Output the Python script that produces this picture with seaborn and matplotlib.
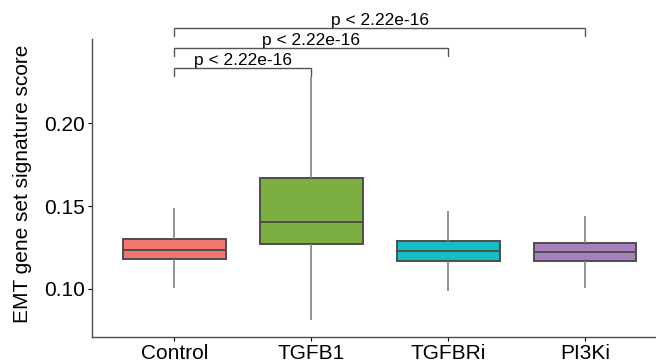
import numpy as np
import pandas as pd
import matplotlib
matplotlib.use("Agg")
import matplotlib.pyplot as plt
import seaborn as sns

# ---- data (five-number summaries: min, Q1, median, Q3, max)
groups = ["Control", "TGFB1", "TGFBRi", "PI3Ki"]
control_vals = [0.1006, 0.1178, 0.1234, 0.1300, 0.1486]
tgfb1_vals = [0.0811, 0.1268, 0.1405, 0.1667, 0.2282]
tgfbri_vals = [0.0988, 0.1167, 0.1226, 0.1288, 0.1470]
pi3ki_vals = [0.1002, 0.1167, 0.1220, 0.1278, 0.1440]
colors = ["#F2766F", "#7BAF41", "#13BEC4", "#A67FBD"]
comparisons = [("Control", "TGFB1"), ("Control", "TGFBRi"), ("Control", "PI3Ki")]
p_labels = ["p < 2.22e-16", "p < 2.22e-16", "p < 2.22e-16"]
y_label = "EMT gene set signature score"
y_ticks = [0.10, 0.15, 0.20]
y_ticklabels = ["0.10", "0.15", "0.20"]

values = [control_vals, tgfb1_vals, tgfbri_vals, pi3ki_vals]
df = pd.DataFrame({
    "group": np.repeat(groups, [len(v) for v in values]),
    "score": np.concatenate(values),
})

sns.set_theme(style="white")
plt.rcParams["font.family"] = ["Liberation Sans", "DejaVu Sans"]

W, H = 656, 362
fig = plt.figure(figsize=(W / 100, H / 100), dpi=100)
ax = fig.add_axes([92.3 / W, (H - 336.7) / H, (667.2 - 92.3) / W, (336.7 - 39.3) / H])

edge = "#4D4D4D"
sns.boxplot(data=df, x="group", y="score", hue="group", order=groups,
            hue_order=groups, palette=colors, legend=False, ax=ax,
            whis=(0, 100), showfliers=False, showcaps=False, width=0.75,
            linecolor=edge, linewidth=1.4, saturation=1,
            whiskerprops=dict(color="#808080", linewidth=1.2))

ax.set_xlim(-0.6, 3.6)
ax.set_ylim(0.0710, 0.2508)
ax.set_yticks(y_ticks)
ax.set_yticklabels(y_ticklabels)
ax.set_xlabel("")
ax.set_ylabel(y_label, fontsize=15, color="black")
ax.yaxis.set_label_coords(-0.105, 0.515)
ax.tick_params(axis="both", labelsize=15, colors="black", length=3,
               width=0.8, pad=2, left=True, bottom=True)
ax.tick_params(axis="y", pad=2.5)
for t in ax.get_xticklines() + ax.get_yticklines():
    t.set_color("#4D4D4D")

for s in ["top", "right"]:
    ax.spines[s].set_visible(False)
for s in ["left", "bottom"]:
    ax.spines[s].set_color("#4D4D4D")
    ax.spines[s].set_linewidth(1.0)

# significance brackets
ymax = max(max(v) for v in values)
step = 0.0121
for i, ((a, b), lab) in enumerate(zip(comparisons, p_labels)):
    xa, xb = groups.index(a), groups.index(b)
    yb = ymax + 0.005 + i * step
    tick = 0.0046
    ax.plot([xa, xa, xb, xb], [yb - tick, yb, yb, yb - tick], color="#555555",
            linewidth=1.0, clip_on=False, solid_joinstyle="miter")
    ax.annotate(lab, xy=((xa + xb) / 2, yb), xytext=(0, 0.5),
                textcoords="offset points", ha="center", va="bottom",
                fontsize=12.5, color="black", annotation_clip=False)

fig.savefig("out.png", dpi=100)
